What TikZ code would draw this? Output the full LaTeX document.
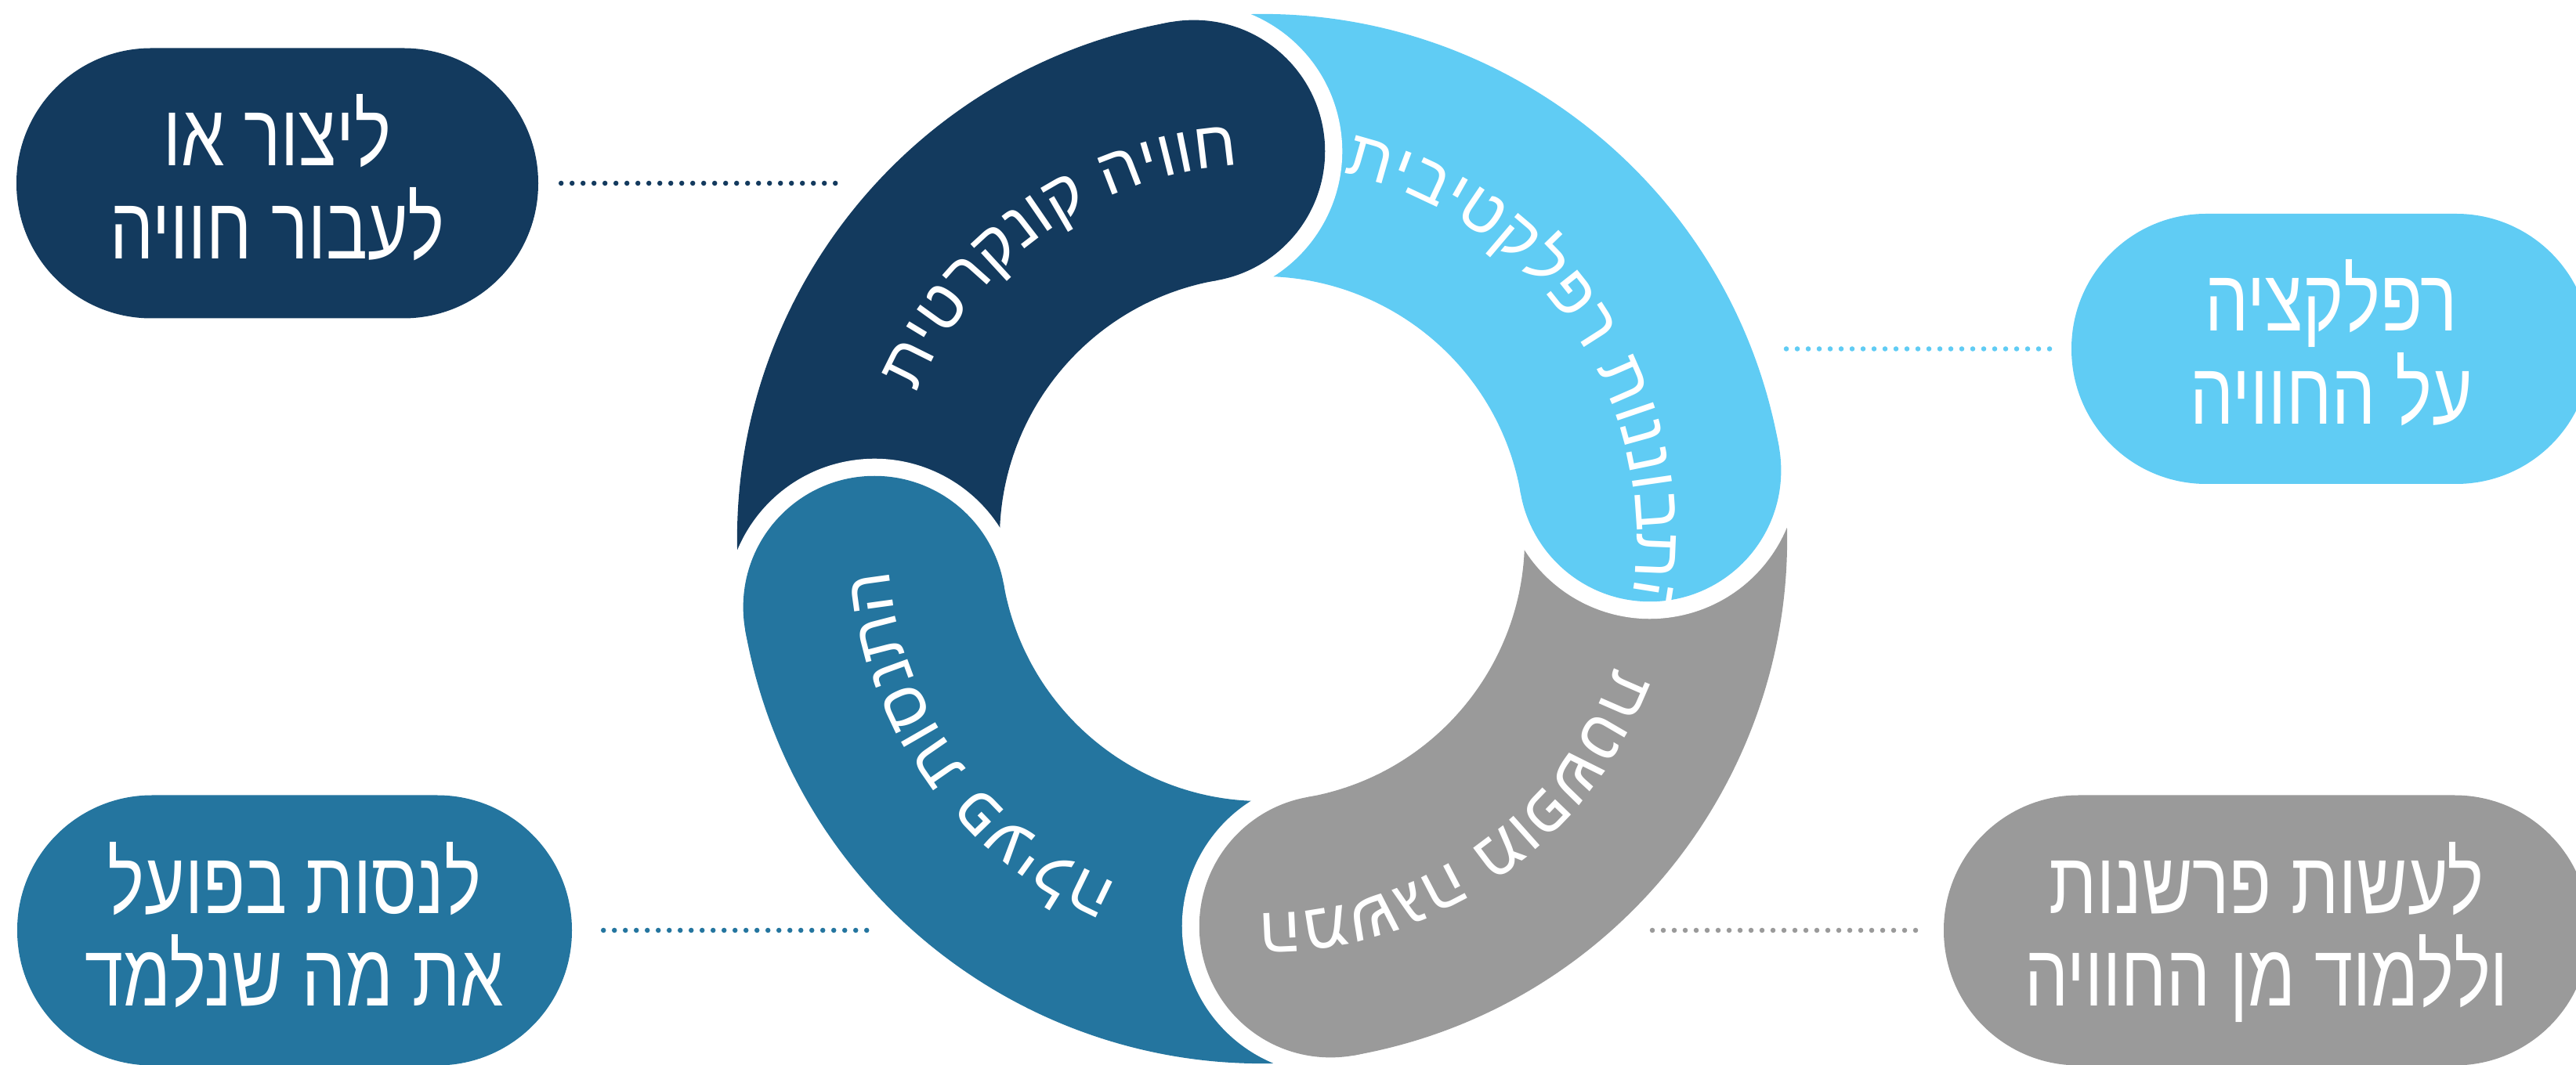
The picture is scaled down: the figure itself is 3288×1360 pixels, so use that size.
\documentclass[tikz,border=0pt]{standalone}
\usepackage{fontspec}
\TeXXeTstate=1
\usetikzlibrary{decorations.text,calc}
\newfontfamily\hebring[Script=Hebrew]{Liberation Sans}
\newfontfamily\hebpill[Script=Hebrew,FakeStretch=0.79]{Liberation Sans}
\newcommand\ringfnt{\hebring\fontsize{84}{90}\selectfont}
\definecolor{cnavy}{RGB}{19,58,94}
\definecolor{clight}{RGB}{96,204,244}
\definecolor{cgray}{RGB}{154,154,154}
\definecolor{csteel}{RGB}{36,117,159}
\begin{document}
\begin{tikzpicture}[x=1pt,y=1pt,
  pill/.style={rectangle, rounded corners=172pt, minimum height=345pt, inner sep=0pt},
  pilltext/.style={anchor=base, text=white, font=\hebpill\fontsize{112}{120}\selectfont, inner sep=0pt},
  dotline/.style={line width=6.5pt, line cap=round, dash pattern=on 0pt off 14pt},
  ringtext/.style={decorate, decoration={text along path, text align=center, text color=white, text={|\ringfnt|#1}}}
]
\useasboundingbox (0,0) rectangle (3288,1360);
\coordinate (O) at (1611,672);
% ring sectors
\foreach \a/\c in {100/cnavy,10/clight,-80/cgray,-170/csteel}{
  \fill[\c] ($(O)+({\a+90}:670)$) arc[start angle=\a+90, end angle=\a, radius=670pt]
    -- ($(O)+(\a:335)$) arc[start angle=\a, end angle=\a+90, radius=335pt] -- cycle;
}
% white borders of the caps
\foreach \a in {100,10,-80,-170}{
  \fill[white] ($(O)+(\a:692)$) arc[start angle=\a, end angle=\a-180, radius=189.5pt] -- cycle;
}
% rounded caps
\foreach \a/\c in {100/cnavy,10/clight,-80/cgray,-170/csteel}{
  \fill[\c] ($(O)+(\a:502.5)$) circle[radius=167.5pt];
}
% ring labels: Hebrew letters placed one by one, in visual order, clockwise
\path[ringtext={תיטרקנוק היווח}] ($(O)+(185.3:478)$) arc[start angle=185.3, end angle=65.3, radius=478pt];
\path[ringtext={תיביטקלפר תוננובתה}] ($(O)+(92.6:478)$) arc[start angle=92.6, end angle=-27.4, radius=478pt];
\path[ringtext={תטשפומ הגשמה}] ($(O)+(4.7:478)$) arc[start angle=4.7, end angle=-115.3, radius=478pt];
\path[ringtext={הליעפ תוסנתה}] ($(O)+(276:478)$) arc[start angle=276, end angle=156, radius=478pt];
% pills
\node[pill, fill=cnavy, minimum width=666pt] (p1) at (354,1126) {};
\node[pill, fill=clight, minimum width=663pt] (p2) at (2975.5,914.5) {};
\node[pill, fill=cgray, minimum width=824pt] (p3) at (2893,172) {};
\node[pill, fill=csteel, minimum width=708pt] (p4) at (376,172) {};
\node[pilltext] (p1a) at (354,1148) {\beginR ליצור או\endR};
\node[pilltext] (p1b) at (354,1029) {\beginR לעבור חוויה\endR};
\node[pilltext] (p2a) at (2975.5,937) {\beginR רפלקציה\endR};
\node[pilltext] (p2b) at (2975.5,818) {\beginR על החוויה\endR};
\node[pilltext] (p3a) at (2893,193) {\beginR לעשות פרשנות\endR};
\node[pilltext] (p3b) at (2893,75) {\beginR וללמוד מן החוויה\endR};
\node[pilltext] (p4a) at (376,193) {\beginR לנסות בפועל\endR};
\node[pilltext] (p4b) at (376,75) {\beginR את מה שנלמד\endR};
% dotted connectors
\coordinate (d1) at (1073,1126);
\coordinate (d2) at (2280,914.5);
\coordinate (d3) at (2109,172);
\coordinate (d4) at (1111,172);
\draw[dotline, cnavy, shorten <=29pt] (p1.east) -- (d1);
\draw[dotline, clight, shorten >=24pt] (d2) -- (p2.west);
\draw[dotline, cgray, shorten >=28pt] (d3) -- (p3.west);
\draw[dotline, csteel, shorten <=40pt] (p4.east) -- (d4);
\end{tikzpicture}
\end{document}
